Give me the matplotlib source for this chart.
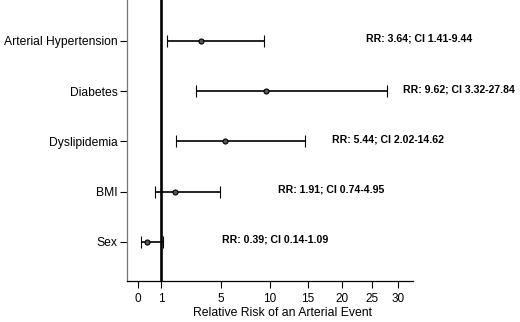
import numpy as np
import matplotlib
matplotlib.use('Agg')
import matplotlib.pyplot as plt

plt.rcParams['font.family'] = ['Liberation Sans', 'DejaVu Sans']

# data
factors = ['Arterial Hypertension', 'Diabetes', 'Dyslipidemia', 'BMI', 'Sex']
rr = np.array([3.64, 9.62, 5.44, 1.91, 0.39])
ci_low = np.array([1.41, 3.32, 2.02, 0.74, 0.14])
ci_high = np.array([9.44, 27.84, 14.62, 4.95, 1.09])
rr_labels = [f'RR: {r:.2f}; CI {lo:.2f}-{hi:.2f}' for r, lo, hi in zip(rr, ci_low, ci_high)]

# the original axis is hand-stretched; anchor values -> axis distance (px from spine)
tick_vals = [0, 1, 5, 10, 15, 20, 25, 30]
tick_pos = [11.0, 34.6, 94.0, 143.3, 181.3, 215.0, 245.0, 271.6]

# layout: where each RR annotation starts (in axis values)
label_x = [24.0, 30.8, 18.6, 11.1, 5.1]


def _interp_ext(v, xs, ys):
    v = np.asarray(v, dtype=float)
    out = np.interp(v, xs, ys)
    lo_slope = (ys[1] - ys[0]) / (xs[1] - xs[0])
    hi_slope = (ys[-1] - ys[-2]) / (xs[-1] - xs[-2])
    out = np.where(v < xs[0], ys[0] + (v - xs[0]) * lo_slope, out)
    out = np.where(v > xs[-1], ys[-1] + (v - xs[-1]) * hi_slope, out)
    return out


def fwd(v):
    return _interp_ext(v, tick_vals, tick_pos)


def inv(p):
    return _interp_ext(p, tick_pos, tick_vals)


fig = plt.figure(figsize=(5.2, 3.22), dpi=100)
ax = fig.add_axes([126.7 / 520, (322 - 280.7) / 322, 286 / 520, 280.7 / 322])
ax.set_xscale('function', functions=(fwd, inv))

ypos = np.arange(len(factors), 0, -1)

ax.axvline(1, color='black', lw=1.9, zorder=1)
ax.errorbar(rr, ypos, xerr=[rr - ci_low, ci_high - rr], fmt='o', color='black',
            ms=3.6, mfc='#555555', mec='black', mew=0.8,
            elinewidth=1.2, capsize=4.2, capthick=1.2, zorder=3)

for x, y, txt in zip(label_x, ypos, rr_labels):
    ax.text(x, y + 0.04, txt, fontsize=7.6, fontweight='bold', ha='left', va='center')

ax.set_xlim(float(inv(0)), float(inv(286)))
ax.set_ylim(0.23, 5.81)

ax.set_xticks(tick_vals)
ax.set_xticklabels([str(t) for t in tick_vals], fontsize=8.5)
ax.set_yticks(ypos)
ax.set_yticklabels(factors, fontsize=8.7)
ax.tick_params(axis='x', direction='out', length=5, width=0.8, pad=4)
ax.tick_params(axis='y', direction='out', length=5, width=0.8, pad=1.5)
ax.minorticks_off()

ax.set_xlabel('Relative Risk of an Arterial Event', fontsize=8.8)
ax.xaxis.set_label_coords(0.546, -0.094)

for side in ['top', 'right']:
    ax.spines[side].set_visible(False)
ax.spines['left'].set_color('#777777')
ax.spines['left'].set_linewidth(0.9)
ax.spines['bottom'].set_linewidth(0.9)

plt.savefig('out.png', dpi=100)
plt.close()
